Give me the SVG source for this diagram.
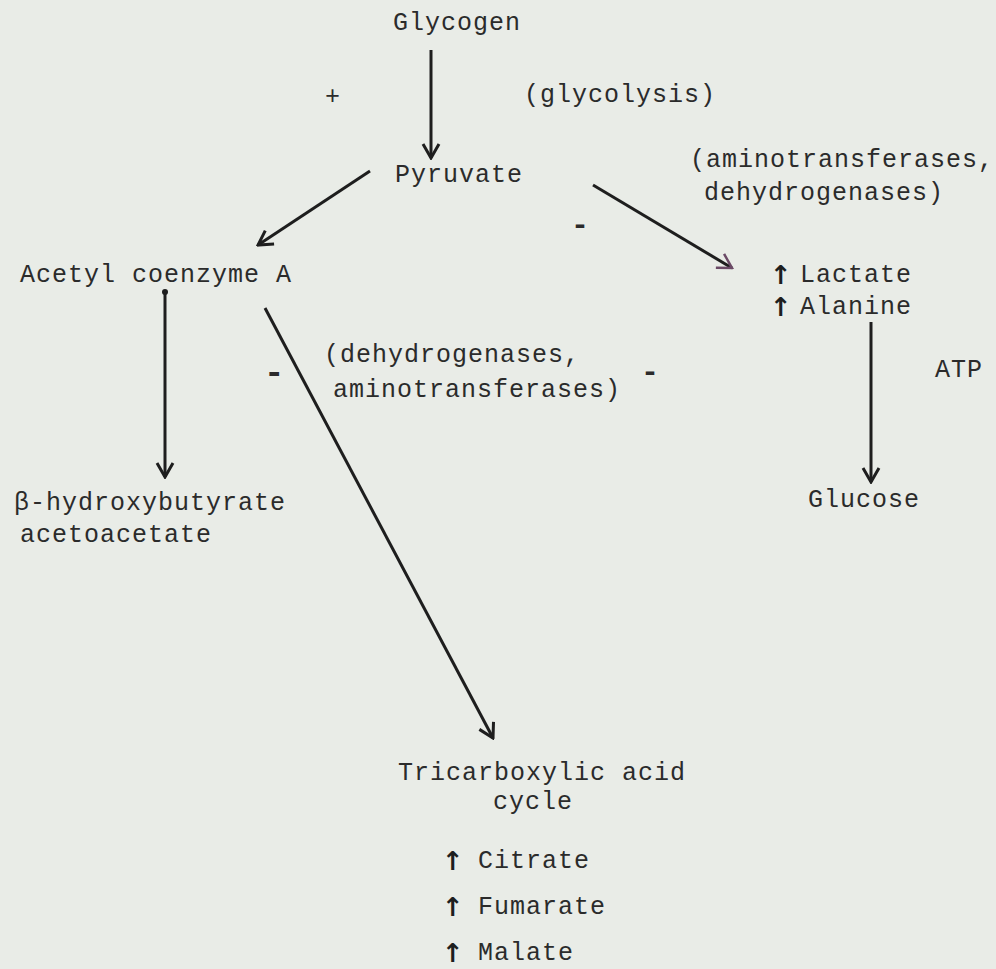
<svg xmlns="http://www.w3.org/2000/svg" width="996" height="969" viewBox="0 0 996 969">
<defs>
<style>
text{font-family:"Liberation Mono","DejaVu Sans Mono",monospace;font-size:25px;letter-spacing:1px;fill:#2b2b2b}
.c line{stroke:#1e1e1e;stroke-width:3;fill:none}
.sign{font-weight:bold;font-size:30px}
.up{font-family:"DejaVu Sans",sans-serif;font-weight:bold;font-size:26px;fill:#1e1e1e}
</style>
<marker id="ah" viewBox="0 0 20 20" refX="18" refY="10" markerWidth="20" markerHeight="20" markerUnits="userSpaceOnUse" orient="auto">
<path d="M4,2 L18,10 L4,18" fill="none" stroke="#1e1e1e" stroke-width="3"/>
</marker>
<marker id="ah2" viewBox="0 0 20 20" refX="18" refY="10" markerWidth="20" markerHeight="20" markerUnits="userSpaceOnUse" orient="auto">
<path d="M4,2 L18,10 L4,18" fill="none" stroke="#6b4a66" stroke-width="2.5"/>
</marker>
</defs>
<rect width="996" height="969" fill="#e9ece7"/>
<g class="c" id="connectors">
<line x1="431" y1="50" x2="431" y2="158" marker-end="url(#ah)"/>
<line x1="370" y1="171" x2="258" y2="245" marker-end="url(#ah)"/>
<line x1="593" y1="185" x2="732" y2="268" marker-end="url(#ah2)"/>
<line x1="165" y1="292" x2="165" y2="477" marker-end="url(#ah)"/>
<circle cx="165" cy="292" r="3" fill="#1e1e1e"/>
<line x1="265" y1="308" x2="493" y2="738" marker-end="url(#ah)"/>
<line x1="871" y1="322" x2="871" y2="482" marker-end="url(#ah)"/>
</g>
<g id="glycogen"><text x="393" y="30">Glycogen</text></g>
<g id="plus"><text x="325" y="104">+</text></g>
<g id="glycolysis"><text x="524" y="102">(glycolysis)</text></g>
<g id="pyruvate"><text x="395" y="182">Pyruvate</text></g>
<g id="enz1"><text x="690" y="167">(aminotransferases,</text><text x="704" y="200">dehydrogenases)</text></g>
<g id="minus1"><text class="sign" x="571" y="234">-</text></g>
<g id="acetyl"><text x="20" y="282">Acetyl coenzyme A</text></g>
<g id="lactate"><text class="up" x="770" y="284">↑</text><text x="800" y="282">Lactate</text></g>
<g id="alanine"><text class="up" x="770" y="316">↑</text><text x="800" y="314">Alanine</text></g>
<g id="enz2"><text x="324" y="362">(dehydrogenases,</text><text x="333" y="397">aminotransferases)</text></g>
<g id="minus2"><text class="sign" x="264" y="383" style="font-size:34px">-</text></g>
<g id="minus3"><text class="sign" x="641" y="381">-</text></g>
<g id="atp"><text x="935" y="377">ATP</text></g>
<g id="hydroxy"><text x="14" y="510">β-hydroxybutyrate</text><text x="20" y="542">acetoacetate</text></g>
<g id="glucose"><text x="808" y="507">Glucose</text></g>
<g id="tca"><text x="398" y="780">Tricarboxylic acid</text><text x="493" y="809">cycle</text></g>
<g id="citrate"><text class="up" x="442" y="870">↑</text><text x="478" y="868">Citrate</text></g>
<g id="fumarate"><text class="up" x="442" y="916">↑</text><text x="478" y="914">Fumarate</text></g>
<g id="malate"><text class="up" x="442" y="962">↑</text><text x="478" y="960">Malate</text></g>
</svg>
